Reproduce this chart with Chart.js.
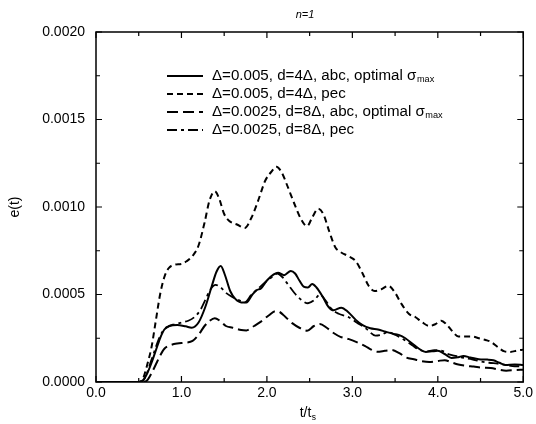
<!DOCTYPE html>
<html>
<head>
<meta charset="utf-8">
<script src="https://cdn.jsdelivr.net/npm/chart.js@4/dist/chart.umd.min.js"></script>
<style>
  html, body { margin: 0; padding: 0; background: #fff; }
  #wrap { width: 536px; height: 424px; position: relative; }
</style>
</head>
<body>
<div id="wrap"><canvas id="c" width="536" height="424"></canvas></div>
<script>
// ---------- DATA ----------
const chartTitle = "n=1";
const xTitleMain = "t/t";
const xTitleSub = "s";
const yTitle = "e(t)";
const xTickValues = [0, 1, 2, 3, 4, 5];
const yTickValues = [0, 0.0005, 0.001, 0.0015, 0.002];

const seriesLabels = [
  "Δ=0.005, d=4Δ, abc, optimal σ",
  "Δ=0.005, d=4Δ, pec",
  "Δ=0.0025, d=8Δ, abc, optimal σ",
  "Δ=0.0025, d=8Δ, pec"
];
const seriesLabelSubs = ["max", "", "max", ""];

// Δ=0.005, d=4Δ, abc, optimal σmax (solid)
const abc005T = [0, 0.5, 0.55, 0.6, 0.65, 0.7, 0.75, 0.8, 0.86, 0.95, 1.05, 1.12, 1.2, 1.28, 1.35, 1.41, 1.46, 1.51, 1.57, 1.63, 1.7, 1.76, 1.83, 1.88, 1.93, 2.0, 2.08, 2.13, 2.2, 2.28, 2.33, 2.38, 2.43, 2.48, 2.53, 2.58, 2.65, 2.72, 2.78, 2.87, 2.95, 3.04, 3.12, 3.21, 3.3, 3.39, 3.48, 3.55, 3.62, 3.7, 3.78, 3.86, 3.93, 4.0, 4.08, 4.16, 4.24, 4.3, 4.38, 4.48, 4.58, 4.65, 4.72, 4.79, 4.9, 5.0];
const abc005E = [0, 0, 0.00001, 0.00005, 0.00011, 0.00018, 0.00025, 0.0003, 0.00032, 0.000326, 0.000318, 0.00031, 0.00034, 0.00043, 0.00054, 0.00063, 0.000663, 0.00061, 0.00052, 0.000475, 0.000455, 0.000455, 0.0005, 0.000525, 0.000535, 0.00058, 0.000615, 0.000625, 0.00061, 0.000635, 0.00062, 0.00058, 0.000545, 0.00054, 0.00056, 0.00054, 0.00049, 0.00043, 0.00041, 0.000425, 0.0004, 0.000355, 0.000325, 0.000307, 0.0003, 0.000287, 0.000275, 0.000268, 0.00025, 0.00022, 0.00019, 0.000172, 0.000175, 0.000178, 0.00016, 0.000137, 0.000142, 0.000149, 0.00014, 0.00013, 0.000128, 0.000124, 0.00011, 0.000097, 0.0001, 0.000097];

// Δ=0.005, d=4Δ, pec (short dash)
const pec005T = [0, 0.5, 0.55, 0.6, 0.65, 0.7, 0.75, 0.8, 0.85, 0.92, 1.0, 1.06, 1.13, 1.2, 1.27, 1.33, 1.39, 1.44, 1.5, 1.56, 1.65, 1.74, 1.82, 1.9, 1.98, 2.05, 2.11, 2.17, 2.24, 2.32, 2.4, 2.47, 2.53, 2.6, 2.66, 2.73, 2.8, 2.87, 2.95, 3.04, 3.12, 3.19, 3.26, 3.34, 3.42, 3.5, 3.57, 3.66, 3.74, 3.82, 3.9, 3.97, 4.04, 4.1, 4.17, 4.24, 4.32, 4.4, 4.48, 4.56, 4.62, 4.7, 4.78, 4.85, 4.93, 5.0];
const pec005E = [0, 0, 0.00002, 0.0001, 0.0002, 0.00035, 0.0005, 0.0006, 0.00065, 0.00067, 0.000675, 0.00069, 0.00072, 0.00078, 0.00091, 0.00104, 0.00109, 0.00105, 0.00096, 0.00092, 0.0009, 0.00088, 0.00094, 0.00104, 0.00115, 0.0012, 0.00123, 0.0012, 0.00112, 0.00102, 0.00093, 0.00089, 0.00094, 0.00099, 0.00096, 0.00086, 0.00077, 0.00074, 0.00072, 0.00069, 0.00062, 0.00055, 0.00052, 0.00053, 0.00055, 0.00051, 0.00045, 0.00039, 0.00037, 0.00034, 0.00032, 0.00033, 0.00035, 0.00033, 0.00029, 0.00026, 0.00026, 0.00026, 0.00025, 0.00024, 0.00023, 0.0002, 0.000175, 0.000172, 0.00018, 0.000185];

// Δ=0.0025, d=8Δ, abc, optimal σmax (long dash)
const abc0025T = [0, 0.55, 0.6, 0.65, 0.7, 0.75, 0.8, 0.87, 0.95, 1.05, 1.13, 1.2, 1.27, 1.33, 1.39, 1.45, 1.52, 1.6, 1.7, 1.76, 1.85, 1.93, 2.02, 2.1, 2.15, 2.22, 2.3, 2.38, 2.47, 2.55, 2.62, 2.7, 2.78, 2.86, 2.96, 3.05, 3.15, 3.22, 3.29, 3.38, 3.46, 3.55, 3.63, 3.72, 3.8, 3.9, 4.0, 4.08, 4.16, 4.24, 4.32, 4.42, 4.52, 4.62, 4.72, 4.8, 4.9, 5.0];
const abc0025E = [0, 0, 0.00001, 0.00005, 0.0001, 0.00015, 0.00019, 0.00021, 0.00022, 0.000225, 0.000235, 0.00027, 0.00032, 0.00035, 0.000365, 0.00035, 0.00032, 0.00031, 0.000297, 0.000295, 0.00032, 0.000345, 0.00038, 0.000405, 0.0004, 0.00037, 0.000335, 0.00031, 0.000293, 0.00032, 0.000332, 0.00031, 0.00028, 0.000258, 0.000245, 0.000228, 0.000205, 0.000185, 0.000173, 0.000178, 0.000183, 0.000165, 0.00014, 0.00013, 0.00012, 0.000114, 0.00012, 0.000125, 0.000112, 0.0001, 0.000093, 0.000088, 0.000082, 0.00008, 0.00007, 0.000065, 0.000068, 0.00007];

// Δ=0.0025, d=8Δ, pec (dash-dot)
const pec0025T = [0, 0.53, 0.58, 0.63, 0.68, 0.73, 0.78, 0.84, 0.92, 1.0, 1.08, 1.15, 1.22, 1.28, 1.34, 1.4, 1.46, 1.52, 1.58, 1.66, 1.74, 1.82, 1.9, 1.98, 2.06, 2.12, 2.18, 2.25, 2.32, 2.4, 2.48, 2.56, 2.62, 2.68, 2.76, 2.84, 2.95, 3.05, 3.16, 3.27, 3.34, 3.41, 3.5, 3.6, 3.7, 3.78, 3.86, 3.96, 4.05, 4.13, 4.22, 4.3, 4.4, 4.5, 4.6, 4.7, 4.8, 4.9, 5.0];
const pec0025E = [0, 0, 0.00003, 0.0001, 0.00017, 0.00024, 0.00029, 0.000316, 0.00033, 0.00034, 0.00035, 0.00037, 0.00041, 0.00047, 0.00053, 0.000555, 0.00054, 0.00051, 0.00049, 0.00047, 0.000455, 0.0005, 0.000535, 0.00057, 0.0006, 0.00062, 0.0006, 0.000555, 0.00051, 0.00047, 0.00045, 0.00047, 0.0005, 0.00047, 0.000415, 0.00039, 0.000372, 0.00034, 0.000305, 0.000265, 0.00027, 0.000285, 0.00027, 0.000243, 0.00021, 0.000185, 0.000175, 0.000182, 0.000178, 0.000158, 0.000148, 0.000138, 0.00013, 0.000118, 0.00011, 0.000105, 0.000097, 0.00009, 0.00009];

// ---------- STYLE ----------
const FONT = '"Liberation Sans", Arial, Helvetica, sans-serif';
const dashes = [[], [6, 4], [11, 5], [10, 4, 3, 4]];
const widths = [2, 2, 2, 1.8];

function toPoints(ts, es) { return ts.map((t, i) => ({ x: t, y: es[i] })); }
const seriesPts = [
  toPoints(abc005T, abc005E),
  toPoints(pec005T, pec005E),
  toPoints(abc0025T, abc0025E),
  toPoints(pec0025T, pec0025E)
];

const datasets = seriesPts.map((pts, i) => ({
  label: seriesLabels[i] + seriesLabelSubs[i],
  data: pts,
  borderColor: '#000',
  borderWidth: widths[i],
  borderDash: dashes[i],
  pointRadius: 0,
  fill: false,
  cubicInterpolationMode: 'monotone',
  borderCapStyle: 'butt'
}));

// ---------- PLUGIN: frame, inward ticks, legend, titles ----------
const decor = {
  id: 'decor',
  afterDraw(chart) {
    const ctx = chart.ctx;
    const a = chart.chartArea;
    const xs = chart.scales.x, ys = chart.scales.y;
    ctx.save();
    ctx.strokeStyle = '#000';
    ctx.lineWidth = 1.5;
    ctx.setLineDash([]);
    ctx.strokeRect(a.left, a.top, a.right - a.left, a.bottom - a.top);
    ctx.lineWidth = 1.2;
    for (let k = 0; k <= 10; k++) {
      const v = k * 0.5;
      const px = xs.getPixelForValue(v);
      const len = (k % 2 === 0) ? 6 : 4;
      ctx.beginPath();
      ctx.moveTo(px, a.bottom); ctx.lineTo(px, a.bottom - len);
      ctx.moveTo(px, a.top); ctx.lineTo(px, a.top + len);
      ctx.stroke();
    }
    for (let k = 0; k <= 8; k++) {
      const v = k * 0.00025;
      const py = ys.getPixelForValue(v);
      const len = (k % 2 === 0) ? 6 : 4;
      ctx.beginPath();
      ctx.moveTo(a.left, py); ctx.lineTo(a.left + len, py);
      ctx.moveTo(a.right, py); ctx.lineTo(a.right - len, py);
      ctx.stroke();
    }
    // legend
    const lx0 = 167, lx1 = 203, tx = 212;
    const rowY = [76, 94, 112, 130];
    const stretch = 1.08;
    ctx.fillStyle = '#000';
    ctx.textBaseline = 'middle';
    ctx.textAlign = 'left';
    for (let i = 0; i < seriesLabels.length; i++) {
      const y = rowY[i];
      ctx.lineWidth = widths[i];
      ctx.setLineDash(dashes[i]);
      ctx.beginPath();
      ctx.moveTo(lx0, y); ctx.lineTo(lx1, y);
      ctx.stroke();
      ctx.setLineDash([]);
      ctx.save();
      ctx.translate(tx, y);
      ctx.scale(stretch, 1);
      ctx.font = '14px ' + FONT;
      ctx.fillText(seriesLabels[i], 0, 0);
      if (seriesLabelSubs[i]) {
        const w = ctx.measureText(seriesLabels[i]).width;
        ctx.font = '8.5px ' + FONT;
        ctx.fillText(seriesLabelSubs[i], w + 0.5, 4);
      }
      ctx.restore();
    }
    // title
    ctx.font = 'italic 11px ' + FONT;
    ctx.textAlign = 'center';
    ctx.textBaseline = 'alphabetic';
    ctx.fillText(chartTitle, 305, 18);
    // x title with subscript
    ctx.font = '14px ' + FONT;
    ctx.textAlign = 'left';
    const wMain = ctx.measureText(xTitleMain).width;
    const xStart = 308 - (wMain + 5) / 2;
    ctx.fillText(xTitleMain, xStart, 417);
    ctx.font = '8.5px ' + FONT;
    ctx.fillText(xTitleSub, xStart + wMain + 0.5, 420);
    // y title rotated
    ctx.font = '14px ' + FONT;
    ctx.translate(15, 207);
    ctx.rotate(-Math.PI / 2);
    ctx.textAlign = 'center';
    ctx.textBaseline = 'middle';
    ctx.fillText(yTitle, 0, 0);
    ctx.restore();
  }
};

new Chart(document.getElementById('c'), {
  type: 'line',
  data: { datasets },
  options: {
    responsive: false,
    animation: false,
    devicePixelRatio: 1,
    layout: { padding: { top: 32, right: 11, left: 0, bottom: 0 } },
    plugins: { legend: { display: false }, tooltip: { enabled: false }, title: { display: false } },
    scales: {
      x: {
        type: 'linear', min: 0, max: 5,
        afterFit(s) { s.height = 42; },
        afterBuildTicks(s) { s.ticks = xTickValues.map(v => ({ value: v })); },
        grid: { display: false, drawTicks: false },
        border: { display: false },
        ticks: {
          padding: 3,
          color: '#000',
          font: { family: FONT, size: 14 },
          maxRotation: 0,
          callback: v => Number(v).toFixed(1)
        }
      },
      y: {
        type: 'linear', min: 0, max: 0.002,
        afterFit(s) { s.width = 96; },
        afterBuildTicks(s) { s.ticks = yTickValues.map(v => ({ value: v })); },
        grid: { display: false, drawTicks: false },
        border: { display: false },
        ticks: {
          padding: 11,
          color: '#000',
          font: { family: FONT, size: 14 },
          callback: v => Number(v).toFixed(4)
        }
      }
    }
  },
  plugins: [decor]
});
</script>
</body>
</html>
